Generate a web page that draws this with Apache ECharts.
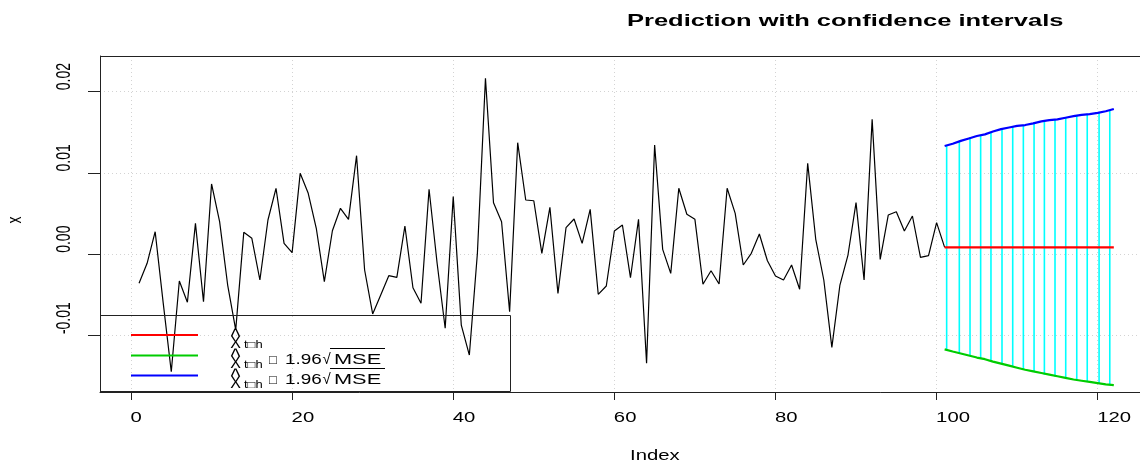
<!DOCTYPE html>
<html>
<head>
<meta charset="utf-8">
<script src="https://cdn.jsdelivr.net/npm/echarts@6/dist/echarts.min.js"></script>
<style>
  html, body { margin: 0; padding: 0; background: #ffffff; }
  #chart { width: 1140px; height: 463px; }
</style>
</head>
<body>
<div id="chart"></div>
<script>
// Observed series x[1..100]
const observed = [
  -0.00357, -0.00111, 0.00278, -0.0060, -0.01444, -0.00328, -0.0059, 0.00381, -0.00583, 0.00865,
  0.00401, -0.00378, -0.0093, 0.0027, 0.00197, -0.00316, 0.00422, 0.00812, 0.00135, 0.0002,
  0.00996, 0.0075, 0.0032, -0.00337, 0.0029, 0.00566, 0.0043, 0.01213, -0.00193, -0.00734,
  -0.0050, -0.00263, -0.00283, 0.00348, -0.00411, -0.00603, 0.0080, -0.0011, -0.0091, 0.00709,
  -0.0087, -0.01239, 0.00012, 0.02165, 0.00635, 0.00401, -0.00706, 0.01373, 0.00668, 0.00659,
  0.00012, 0.00578, -0.0048, 0.00327, 0.00434, 0.00135, 0.00553, -0.00492, -0.0039, 0.00287,
  0.0036, -0.00288, 0.0043, -0.01341, 0.01344, 0.00061, -0.00234, 0.00812, 0.00492, 0.0043,
  -0.00369, -0.00202, -0.00365, 0.00812, 0.00504, -0.00132, 0.00012, 0.0025, -0.00079, -0.00267,
  -0.00316, -0.00132, -0.0043, 0.01119, 0.00185, -0.00316, -0.01144, -0.00378, -0.00009, 0.00635,
  -0.00316, 0.0166, -0.00062, 0.00483, 0.00524, 0.00287, 0.00471, -0.00037, -0.00017, 0.00389
];

// Forecast horizon and bands
const forecastIndex = [101, 102, 103, 104, 105, 106, 107, 108, 109, 110, 111,
                       112, 113, 114, 115, 116, 117, 118, 119, 120, 121, 122];
const forecastMean = [0.00085, 0.00085, 0.00085, 0.00085, 0.00085, 0.00085, 0.00085, 0.00085,
                      0.00085, 0.00085, 0.00085, 0.00085, 0.00085, 0.00085, 0.00085, 0.00085,
                      0.00085, 0.00085, 0.00085, 0.00085, 0.00085, 0.00085];
const upperBand = [0.01332, 0.0136, 0.01395, 0.01425, 0.01455, 0.01475, 0.0151, 0.0154, 0.0156,
                   0.0158, 0.0159, 0.0161, 0.01635, 0.0165, 0.0166, 0.0168, 0.0170, 0.01715,
                   0.01725, 0.0174, 0.0176, 0.01787];
const lowerBand = [-0.01169, -0.01195, -0.0122, -0.01245, -0.0127, -0.0129, -0.0132, -0.01345,
                   -0.0137, -0.01395, -0.0142, -0.0144, -0.0146, -0.0148, -0.015, -0.0152,
                   -0.0154, -0.01555, -0.0157, -0.01585, -0.016, -0.0161];

// Vertical interval segments
const segmentIndex = [101.25, 102.82, 104.15, 105.47, 106.75, 108.12, 109.45, 110.77,
                      112.1, 113.38, 114.7, 116.03, 117.4, 118.7, 120.17, 121.5];
const segmentTop = [0.01332, 0.01394, 0.01439, 0.01467, 0.01504, 0.01541, 0.01569, 0.01587,
                    0.01619, 0.01646, 0.01664, 0.01685, 0.0171, 0.01729, 0.0175, 0.01775];
const segmentBottom = [-0.01169, -0.01218, -0.01251, -0.01288, -0.01325, -0.01349, -0.01382, -0.01423,
                       -0.01444, -0.01481, -0.01505, -0.0153, -0.01546, -0.01567, -0.01587, -0.016];

// Axis ticks and labels
const xTicks = [0, 20, 40, 60, 80, 100, 120];
const xTickLabels = ['0', '20', '40', '60', '80', '100', '120'];
const yTicks = [-0.01, 0, 0.01, 0.02];
const yTickLabels = ['-0.01', '0.00', '0.01', '0.02'];

const titleText = 'Prediction with confidence intervals';
const xName = 'Index';
const yName = 'x';

// The plotting region runs past the right edge of the canvas, so the
// visible x range stops short of the full region.
const X_MIN = -3.848, X_MAX = 125.25;
const Y_MIN = -0.016937, Y_MAX = 0.024391;

const FONT = '"Liberation Sans", Arial, "DejaVu Sans", sans-serif';
const FRAME = '#222222';

const observedData = observed.map((v, i) => [i + 1, v]);
observedData.push([forecastIndex[0], forecastMean[0]]);

const chart = echarts.init(document.getElementById('chart'), null, { renderer: 'canvas' });

const gridLine = { color: '#d3d3d3', width: 1, type: [1, 3] };

chart.setOption({
  animation: false,
  backgroundColor: '#ffffff',
  grid: { left: 100, top: 56, right: 0, bottom: 71, show: false },
  xAxis: {
    type: 'value', min: X_MIN, max: X_MAX, position: 'bottom',
    axisLine: { show: true, onZero: false, lineStyle: { color: FRAME, width: 1 } },
    axisTick: { show: true, length: 8, customValues: xTicks, lineStyle: { color: FRAME, width: 1 } },
    axisLabel: { show: false, customValues: xTicks },
    splitLine: { show: true, lineStyle: gridLine }
  },
  yAxis: {
    type: 'value', min: Y_MIN, max: Y_MAX, position: 'left',
    axisLine: { show: true, onZero: false, lineStyle: { color: FRAME, width: 1 } },
    axisTick: { show: true, length: 12, customValues: yTicks, lineStyle: { color: FRAME, width: 1 } },
    axisLabel: { show: false, customValues: yTicks },
    splitLine: { show: true, lineStyle: gridLine }
  },
  series: [
    {
      type: 'custom',
      z: 2,
      data: segmentIndex.map((x, i) => [x, segmentBottom[i], segmentTop[i]]),
      encode: { x: 0, y: [1, 2] },
      renderItem: function (params, api) {
        const a = api.coord([api.value(0), api.value(1)]);
        const b = api.coord([api.value(0), api.value(2)]);
        return {
          type: 'line',
          shape: { x1: a[0], y1: a[1], x2: b[0], y2: b[1] },
          style: { stroke: '#00ffff', lineWidth: 1.6 }
        };
      }
    },
    {
      type: 'line', z: 3, data: observedData, showSymbol: false,
      lineStyle: { color: '#000000', width: 1.2 }
    },
    {
      type: 'line', z: 4, data: forecastIndex.map((x, i) => [x, forecastMean[i]]), showSymbol: false,
      lineStyle: { color: '#ff0000', width: 2.2 }
    },
    {
      type: 'line', z: 4, data: forecastIndex.map((x, i) => [x, lowerBand[i]]), showSymbol: false,
      lineStyle: { color: '#00cc00', width: 2.2 }
    },
    {
      type: 'line', z: 4, data: forecastIndex.map((x, i) => [x, upperBand[i]]), showSymbol: false,
      lineStyle: { color: '#0000ff', width: 2.2 }
    }
  ]
});

function px(x, y) { return chart.convertToPixel({ gridIndex: 0 }, [x, y]); }

function txt(text, x, y, opts) {
  const o = opts || {};
  return {
    type: 'text', x: x, y: y, z: 100,
    rotation: o.rotation || 0,
    scaleX: o.scaleX || 1, scaleY: o.scaleY || 1,
    style: {
      text: text,
      font: o.font || ('14px ' + FONT),
      fill: o.fill || '#000000',
      align: o.align || 'left', textAlign: o.align || 'left',
      verticalAlign: o.valign || 'middle', textVerticalAlign: o.valign || 'middle'
    }
  };
}

const g = [];

// Top edge of the plot frame
const topLeft = px(X_MIN, Y_MAX);
g.push({ type: 'line', z: 50, shape: { x1: topLeft[0], y1: Math.round(topLeft[1]) + 0.5, x2: 1140, y2: Math.round(topLeft[1]) + 0.5 },
         style: { stroke: FRAME, lineWidth: 1 } });

// Title
g.push(txt(titleText, 627, 21, { font: 'bold 17px ' + FONT, scaleX: 1.5 }));

// X tick labels
xTicks.forEach((t, i) => {
  const p = px(t, 0);
  g.push(txt(xTickLabels[i], p[0] - 0.5, 418.5, { scaleX: 1.45 }));
});
// Y tick labels (rotated, reading upward)
yTicks.forEach((t, i) => {
  const p = px(0, t);
  g.push(txt(yTickLabels[i], 64.5, p[1] - 1.5, { rotation: Math.PI / 2, scaleY: 1.5 }));
});
// Axis names
g.push(txt(xName, 630, 456, { scaleX: 1.45 }));
g.push(txt(yName, 15, 220, { rotation: Math.PI / 2, scaleY: 1.5, align: 'center' }));

// Legend frame
g.push({ type: 'rect', z: 90, shape: { x: 100.5, y: 315.5, width: 410, height: 76 },
         style: { fill: 'none', stroke: FRAME, lineWidth: 1 } });
const legendColors = ['#ff0000', '#00cc00', '#0000ff'];
const legendY = [335, 355.5, 375.5];
legendColors.forEach((c, k) => {
  g.push({ type: 'line', z: 90, shape: { x1: 131, y1: legendY[k], x2: 198, y2: legendY[k] },
           style: { stroke: c, lineWidth: 2 } });
  const dy = 20 * k;
  g.push(txt('^', 235.5, 337.3 + dy, { font: '20px ' + FONT, align: 'center' }));
  g.push(txt('X', 235.5, 343.5 + dy, { font: '16px ' + FONT, align: 'center' }));
  g.push(txt('t\u25A1h', 244, 345 + dy, { font: '10px ' + FONT, scaleX: 1.3 }));
  if (k > 0) {
    g.push(txt('\u25A1', 269, 360 + dy - 20, { font: '13px ' + FONT }));
    g.push(txt('1.96', 285, 360 + dy - 20, { scaleX: 1.35 }));
    g.push(txt('\u221A', 322.5, 360 + dy - 20, { font: '15px ' + FONT }));
    g.push(txt('MSE', 334, 360 + dy - 20, { font: '15px ' + FONT, scaleX: 1.45 }));
    g.push({ type: 'line', z: 90, shape: { x1: 330, y1: 348.5 + dy - 20, x2: 385, y2: 348.5 + dy - 20 },
             style: { stroke: '#000000', lineWidth: 1 } });
  }
});

chart.setOption({ graphic: g });
</script>
</body>
</html>
